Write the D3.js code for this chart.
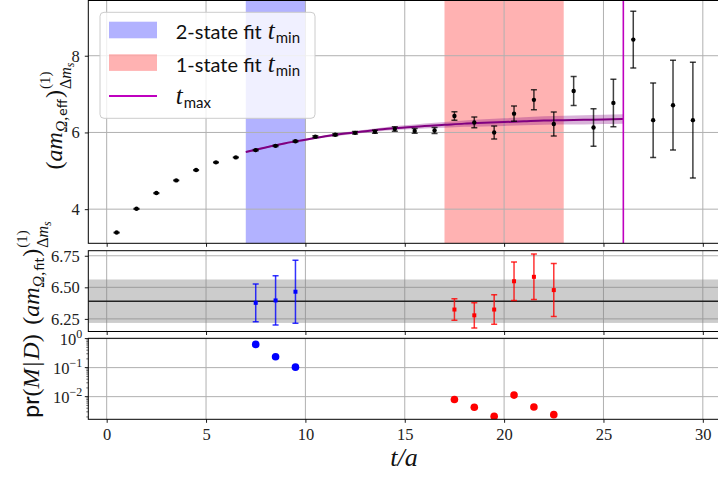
<!DOCTYPE html>
<html>
<head>
<meta charset="utf-8">
<script src="https://cdn.jsdelivr.net/npm/d3@7"></script>
<style>
  html, body { margin: 0; padding: 0; background: #fff; }
  svg { display: block; }
</style>
</head>
<body>
<svg id="chart" width="718" height="478"></svg>
<script>
// ---- data ----
const tEff = [0.5, 1.5, 2.5, 3.5, 4.5, 5.5, 6.5, 7.5, 8.5, 9.5, 10.5, 11.5, 12.5, 13.5, 14.5,
              15.5, 16.5, 17.5, 18.5, 19.5, 20.5, 21.5, 22.5, 23.5, 24.5, 25.5, 26.5, 27.5, 28.5, 29.5];
const effVal = [3.39, 4.01, 4.42, 4.75, 5.02, 5.22, 5.35, 5.54, 5.65, 5.77, 5.89, 5.94, 5.99, 6.02, 6.09,
                6.04, 6.05, 6.43, 6.26, 6.00, 6.49, 6.85, 6.22, 7.08, 6.13, 6.77, 8.42, 6.32, 6.71, 6.32];
const effErr = [0.01, 0.01, 0.01, 0.01, 0.01, 0.01, 0.012, 0.014, 0.016, 0.02, 0.024, 0.028, 0.033, 0.04, 0.06,
                0.06, 0.08, 0.11, 0.14, 0.17, 0.2, 0.26, 0.31, 0.38, 0.49, 0.62, 0.74, 0.97, 1.17, 1.51];

const fitT   = [7, 8, 9, 10, 11, 12, 13, 14, 15, 16, 17, 18, 19, 20, 21, 22, 23, 24, 25, 26];
const fitVal = [5.49, 5.61, 5.72, 5.81, 5.90, 5.97, 6.03, 6.09, 6.13, 6.17, 6.20, 6.23, 6.25, 6.27, 6.29, 6.31, 6.32, 6.33, 6.34, 6.35];
const fitErr = [0.02, 0.02, 0.022, 0.025, 0.03, 0.035, 0.04, 0.048, 0.055, 0.065, 0.075, 0.083, 0.092, 0.1, 0.105, 0.11, 0.115, 0.12, 0.122, 0.125];

const twoStateT = [7.5, 8.5, 9.5];
const twoStateVal = [6.377, 6.396, 6.465];
const twoStateErr = [0.15, 0.195, 0.25];
const twoStateProb = [0.63, 0.236, 0.104];

const oneStateT = [17.5, 18.5, 19.5, 20.5, 21.5, 22.5];
const oneStateVal = [6.324, 6.278, 6.324, 6.548, 6.583, 6.478];
const oneStateErr = [0.085, 0.1, 0.117, 0.152, 0.18, 0.21];
const oneStateProb = [0.0080, 0.0043, 0.0021, 0.0113, 0.0044, 0.0024];

const avgVal = 6.39, avgErr = 0.172;
const twoStateSpan = [7, 10], oneStateSpan = [17, 23], tMax = 26;

const xTicks = [0, 5, 10, 15, 20, 25, 30];
const effTicks = [4, 6, 8];
const fitTicks = [6.25, 6.5, 6.75];
const probTicks = [1, 0.1, 0.01];

// ---- layout ----
const svg = d3.select('#chart');
const SERIF = '"Liberation Serif", "DejaVu Serif", serif';
const SANS = 'Lato, "DejaVu Sans", sans-serif';
const GRID = '#b0b0b0';
const TICK_FONT = '16.5px';

const x = d3.scaleLinear().domain([-0.925, 30.925]).range([88.3, 721.2]);
const yEff = d3.scaleLinear().domain([3.11, 9.44]).range([243.3, 0.5]);
const yFit = d3.scaleLinear().domain([6.15, 6.79]).range([331.5, 250.7]);
const yProb = d3.scaleLog().domain([Math.pow(10, -2.78), Math.pow(10, 0.01)]).range([419.3, 338.3]);

const panels = [
  { y: yEff, ticks: effTicks, fmt: d => d3.format('d')(d) },
  { y: yFit, ticks: fitTicks, fmt: d => d3.format('.2f')(d) },
  { y: yProb, ticks: probTicks, log: true }
];

function clipFor(id, y) {
  const r = y.range();
  svg.append('clipPath').attr('id', id).append('rect')
    .attr('x', x.range()[0]).attr('y', r[1])
    .attr('width', x.range()[1] - x.range()[0]).attr('height', r[0] - r[1]);
  return `url(#${id})`;
}

function drawGrid(g, y, ticks) {
  const [y0, y1] = y.range();
  g.selectAll('.vg').data(xTicks).join('line')
    .attr('x1', d => x(d)).attr('x2', d => x(d)).attr('y1', y0).attr('y2', y1)
    .attr('stroke', GRID).attr('stroke-width', 1);
  g.selectAll('.hg').data(ticks).join('line').attr('class', 'hg')
    .attr('x1', x.range()[0]).attr('x2', x.range()[1]).attr('y1', d => y(d)).attr('y2', d => y(d))
    .attr('stroke', GRID).attr('stroke-width', 1);
}

function drawFrame(y, p) {
  const [y0, y1] = y.range();
  const [x0, x1] = x.range();
  const ax = svg.append('g').attr('transform', `translate(0,${y0})`)
    .call(d3.axisBottom(x).tickValues(xTicks).tickSizeInner(3.5).tickSizeOuter(0).tickPadding(5)
      .tickFormat(p.last ? d3.format('d') : () => ''));
  ax.select('.domain').remove();
  ax.selectAll('line').attr('stroke', '#000').attr('stroke-width', 0.9);
  ax.selectAll('text').style('font-family', SERIF).style('font-size', TICK_FONT).attr('fill', '#222');

  const ay = svg.append('g').attr('transform', `translate(${x0},0)`);
  if (p.log) {
    const minor = [];
    for (let k = -3; k <= 0; k++) for (let m = 2; m <= 9; m++) {
      const v = m * Math.pow(10, k);
      if (v >= y.domain()[0] && v <= y.domain()[1]) minor.push(v);
    }
    ay.selectAll('.mn').data(minor).join('line')
      .attr('x1', -2).attr('x2', 0).attr('y1', d => y(d)).attr('y2', d => y(d))
      .attr('stroke', '#000').attr('stroke-width', 0.6);
    ay.selectAll('.mj').data(p.ticks).join('line')
      .attr('x1', -3.5).attr('x2', 0).attr('y1', d => y(d)).attr('y2', d => y(d))
      .attr('stroke', '#000').attr('stroke-width', 0.9);
    p.ticks.forEach(v => {
      const e = Math.round(Math.log10(v));
      const t = ay.append('text').attr('x', -6).attr('y', y(v) + 6)
        .attr('text-anchor', 'end').style('font-family', SERIF).attr('fill', '#222');
      t.append('tspan').style('font-size', TICK_FONT).text('10');
      t.append('tspan').attr('dy', -7).style('font-size', '12px').text(e === 0 ? '0' : '\u2212' + Math.abs(e));
    });
  } else {
    ay.call(d3.axisLeft(y).tickValues(p.ticks).tickSizeInner(3.5).tickSizeOuter(0).tickPadding(5).tickFormat(p.fmt));
    ay.select('.domain').remove();
    ay.selectAll('line').attr('stroke', '#000').attr('stroke-width', 0.9);
    ay.selectAll('text').style('font-family', SERIF).style('font-size', TICK_FONT).attr('fill', '#222');
  }
  svg.append('rect').attr('x', x0).attr('y', y1).attr('width', x1 - x0).attr('height', y0 - y1)
    .attr('fill', 'none').attr('stroke', '#000').attr('stroke-width', 1);
}

function errorBars(g, ts, vals, errs, y, color, opacity, cap) {
  const grp = g.append('g').attr('stroke', color).attr('stroke-opacity', opacity).attr('stroke-width', 1.5);
  ts.forEach((t, i) => {
    const cx = x(t), ya = y(vals[i] - errs[i]), yb = y(vals[i] + errs[i]);
    grp.append('line').attr('x1', cx).attr('x2', cx).attr('y1', ya).attr('y2', yb);
    grp.append('line').attr('x1', cx - cap).attr('x2', cx + cap).attr('y1', ya).attr('y2', ya);
    grp.append('line').attr('x1', cx - cap).attr('x2', cx + cap).attr('y1', yb).attr('y2', yb);
  });
}

// ---- panel 1: effective mass ----
const g1 = svg.append('g').attr('clip-path', clipFor('c1', yEff));
g1.append('rect').attr('x', x(twoStateSpan[0])).attr('width', x(twoStateSpan[1]) - x(twoStateSpan[0]))
  .attr('y', 0).attr('height', yEff.range()[0]).attr('fill', '#0000ff').attr('fill-opacity', 0.3);
g1.append('rect').attr('x', x(oneStateSpan[0])).attr('width', x(oneStateSpan[1]) - x(oneStateSpan[0]))
  .attr('y', 0).attr('height', yEff.range()[0]).attr('fill', '#ff0000').attr('fill-opacity', 0.3);
drawGrid(g1, yEff, effTicks);

const fitData = fitT.map((t, i) => ({ t, v: fitVal[i], e: fitErr[i] }));
g1.append('path').datum(fitData)
  .attr('d', d3.area().curve(d3.curveMonotoneX).x(d => x(d.t)).y0(d => yEff(d.v - d.e)).y1(d => yEff(d.v + d.e)))
  .attr('fill', '#800080').attr('fill-opacity', 0.3);
g1.append('path').datum(fitData)
  .attr('d', d3.line().curve(d3.curveMonotoneX).x(d => x(d.t)).y(d => yEff(d.v)))
  .attr('fill', 'none').attr('stroke', '#800080').attr('stroke-width', 2);

errorBars(g1, tEff, effVal, effErr, yEff, '#000', 0.75, 3);
g1.selectAll('.pt').data(tEff).join('circle')
  .attr('cx', d => x(d)).attr('cy', (d, i) => yEff(effVal[i])).attr('r', 2.2).attr('fill', '#000');

g1.append('line').attr('x1', x(tMax)).attr('x2', x(tMax)).attr('y1', 0).attr('y2', yEff.range()[0])
  .attr('stroke', '#bf00bf').attr('stroke-width', 1.6);

drawFrame(yEff, panels[0]);

// ---- panel 2: fit results ----
const g2 = svg.append('g').attr('clip-path', clipFor('c2', yFit));
drawGrid(g2, yFit, fitTicks);
g2.append('rect').attr('x', x.range()[0]).attr('width', x.range()[1] - x.range()[0])
  .attr('y', yFit(avgVal + avgErr)).attr('height', yFit(avgVal - avgErr) - yFit(avgVal + avgErr))
  .attr('fill', '#808080').attr('fill-opacity', 0.4);
g2.append('line').attr('x1', x.range()[0]).attr('x2', x.range()[1]).attr('y1', yFit(avgVal)).attr('y2', yFit(avgVal))
  .attr('stroke', '#222').attr('stroke-width', 1.6);
errorBars(g2, twoStateT, twoStateVal, twoStateErr, yFit, '#0000ff', 0.8, 3);
errorBars(g2, oneStateT, oneStateVal, oneStateErr, yFit, '#ff0000', 0.8, 3);
g2.selectAll('.bs').data(twoStateT).join('rect')
  .attr('x', d => x(d) - 2).attr('y', (d, i) => yFit(twoStateVal[i]) - 2).attr('width', 4).attr('height', 4)
  .attr('fill', '#0000ff');
g2.selectAll('.rs').data(oneStateT).join('rect')
  .attr('x', d => x(d) - 2).attr('y', (d, i) => yFit(oneStateVal[i]) - 2).attr('width', 4).attr('height', 4)
  .attr('fill', '#ff0000');
drawFrame(yFit, panels[1]);

// ---- panel 3: model probabilities ----
const g3 = svg.append('g').attr('clip-path', clipFor('c3', yProb));
drawGrid(g3, yProb, probTicks);
g3.selectAll('.bp').data(twoStateT).join('circle')
  .attr('cx', d => x(d)).attr('cy', (d, i) => yProb(twoStateProb[i])).attr('r', 3.8).attr('fill', '#0000ff');
g3.selectAll('.rp').data(oneStateT).join('circle')
  .attr('cx', d => x(d)).attr('cy', (d, i) => yProb(oneStateProb[i])).attr('r', 3.8).attr('fill', '#ff0000');
drawFrame(yProb, Object.assign({ last: true }, panels[2]));

// ---- labels ----
// Places a run of differently styled pieces one after another; a piece marked
// `back` restarts at the position stored by the previous `mark` (stacked indices).
function richLabel(parent, segs) {
  const g = parent.append('g');
  let cur = 0, mark = 0, maxX = 0;
  segs.forEach(s => {
    const start = (s.back ? mark : cur) + (s.gap || 0);
    if (s.mark) mark = start;
    const t = g.append('text').attr('x', start).attr('y', s.dy || 0)
      .style('font-family', s.f || SERIF).style('font-size', s.size + 'px')
      .style('font-style', s.it ? 'italic' : 'normal').attr('fill', '#111').text(s.t);
    cur = start + t.node().getComputedTextLength();
    maxX = Math.max(maxX, cur);
  });
  return { g, width: maxX };
}

function yLabel(segs, bx, cy) {
  const holder = svg.append('g');
  const r = richLabel(holder, segs);
  holder.attr('transform', `translate(${bx},${cy}) rotate(-90) translate(${-r.width / 2},0)`);
}

const supSub = (name) => [
  { t: '(', size: 24 }, { t: 'am', size: 24, it: true },
  { t: '\u03A9', size: 16, it: true, dy: 5 }, { t: ',', size: 16, dy: 5 }, { t: name, size: 14, f: SANS, dy: 5, gap: 1 },
  { t: ')', size: 24, gap: 1 },
  { t: '(1)', size: 15, dy: -12, mark: true, gap: 1 },
  { t: '\u0394', size: 16, dy: 9, back: true }, { t: 'm', size: 16, it: true, dy: 9 },
  { t: 's', size: 12, it: true, dy: 12 }
];
yLabel(supSub('eff'), 62, 116);
yLabel(supSub('fit'), 39, 273);
yLabel([
  { t: 'pr', size: 23, f: SANS }, { t: '(', size: 24 }, { t: 'M', size: 24, it: true },
  { t: '|', size: 24, gap: 2 }, { t: 'D', size: 24, it: true, gap: 2 }, { t: ')', size: 24 }
], 39, 376);

const xl = svg.append('g');
const xr = richLabel(xl, [{ t: 't/a', size: 26, it: true }]);
xl.attr('transform', `translate(${404 - xr.width / 2},466)`);

// ---- legend ----
const lg = svg.append('g');
lg.append('rect').attr('x', 100).attr('y', 12.3).attr('width', 215).attr('height', 106).attr('rx', 4)
  .attr('fill', '#fff').attr('fill-opacity', 0.8).attr('stroke', '#cccccc').attr('stroke-width', 1);
lg.append('rect').attr('x', 109).attr('y', 21.7).attr('width', 48).attr('height', 16.6)
  .attr('fill', '#0000ff').attr('fill-opacity', 0.3);
lg.append('rect').attr('x', 109).attr('y', 54.3).attr('width', 48).attr('height', 16.6)
  .attr('fill', '#ff0000').attr('fill-opacity', 0.3);
lg.append('line').attr('x1', 109).attr('x2', 157).attr('y1', 96).attr('y2', 96)
  .attr('stroke', '#bf00bf').attr('stroke-width', 2);

function legendText(label, sub, by) {
  const g = lg.append('g').attr('transform', `translate(175.7,${by})`);
  const segs = [];
  if (label) segs.push({ t: label, size: 20, f: SANS });
  segs.push({ t: 't', size: 25, it: true, gap: label ? 6 : 0 }, { t: sub, size: 15, f: SANS, dy: 4, gap: 1 });
  richLabel(g, segs);
}
legendText('2-state fit', 'min', 39.3);
legendText('1-state fit', 'min', 71.7);
legendText('', 'max', 104);
</script>
</body>
</html>
